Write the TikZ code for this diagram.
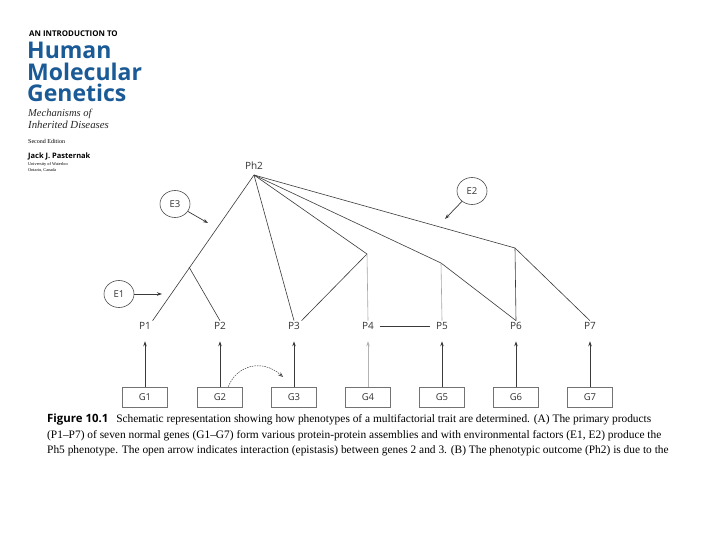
\documentclass[tikz,border=0pt]{standalone}
\usepackage{fontspec}
\setmainfont{Liberation Serif}
\newfontfamily\hsans{Open Sans}
\usetikzlibrary{arrows.meta,shapes.geometric}
\definecolor{hblue}{HTML}{1A5A96}
\definecolor{lc}{HTML}{3A3A3A}
\begin{document}
\begin{tikzpicture}[x=1pt,y=-1pt,
  lbl/.style={font=\hsans\fontsize{10}{12}\selectfont, text=black!80, inner sep=1.5pt},
  gbox/.style={draw=black!55, line width=0.7pt, minimum width=45pt, minimum height=20pt, inner sep=0pt, font=\hsans\fontsize{9.5}{11}\selectfont, text=black!80},
  env/.style={ellipse, draw=black!70, line width=0.6pt, minimum width=30pt, minimum height=27pt, inner sep=0pt, font=\hsans\fontsize{9.5}{11}\selectfont, text=black!80},
  link/.style={draw=lc, line width=0.6pt},
  faint/.style={draw=black!35, line width=0.6pt},
  arr/.style={-{Stealth[length=5pt,width=3.5pt]}, draw=lc, line width=0.7pt},
  hd/.style={anchor=base west, inner sep=0pt},
  htitle/.style={anchor=base west, inner sep=0pt, text=hblue, font=\hsans\bfseries\fontsize{23}{23}\selectfont},
  captext/.style={anchor=base west, inner sep=0pt, font=\fontsize{11.4}{13}\selectfont}
]
\useasboundingbox (0,0) rectangle (720,540);
\fill[white] (0,0) rectangle (720,540);

% header
\node[hd, font=\hsans\bfseries\fontsize{7.9}{8}\selectfont] (h0) at (29,37) {AN INTRODUCTION TO};
\node[htitle] (h1) at (27,59) {Human};
\node[htitle] (h2) at (27,80.5) {Molecular};
\node[htitle] (h3) at (27,102) {Genetics};
\node[hd, font=\itshape\fontsize{10.5}{11}\selectfont, text=black!85] (h4) at (28,117) {Mechanisms of};
\node[hd, font=\itshape\fontsize{10.8}{11}\selectfont, text=black!85] (h5) at (28,129) {Inherited Diseases};
\node[hd, font=\fontsize{6}{7}\selectfont] (h6) at (28,144) {Second Edition};
\node[hd, font=\hsans\bfseries\fontsize{7.5}{8}\selectfont] (h7) at (28,159) {Jack J. Pasternak};
\node[hd, font=\fontsize{4.3}{5}\selectfont] (h8) at (28,165.5) {University of Waterloo};
\node[hd, font=\fontsize{4.3}{5}\selectfont] (h9) at (28,171.5) {Ontario, Canada};

% P nodes
\node[lbl] (Ph2) at (254,166) {Ph2};
\coordinate (apex) at (254,175);
\foreach \i/\x in {1/145,2/220,3/294,4/368,5/442,6/516,7/590}{
  \node[lbl] (P\i) at (\x,326) {P\i};
  \node[gbox] (G\i) at (\x,397) {G\i};
}
\coordinate (j1) at (189,267);
\coordinate (j4) at (367,254);
\coordinate (j5) at (441,263);
\coordinate (j6) at (515,248);

\draw[link] (apex) -- (P1.north east);
\draw[link] (j1) -- (P2.north);
\draw[link] (apex) -- (P3.north);
\draw[link] (apex) -- (j4) -- (P3.north east);
\draw[faint] (j4) -- (P4.north);
\draw[link] (apex) -- (j5) -- (P6.north);
\draw[faint] (j5) -- (P5.north);
\draw[link] (apex) -- (j6) -- (P7.north);
\draw[link] (j6) -- (P6.north);
\draw[link, shorten <=4pt, shorten >=4pt] (P4) -- (P5);

% environment factors
\node[env] (E3) at (175,204) {E3};
\node[env] (E1) at (119,294) {E1};
\node[env] (E2) at (472,191) {E2};
\coordinate (e3t) at (208,223);
\coordinate (e1t) at (162,294);
\coordinate (e2t) at (445,219);
\draw[arr] (E3) -- (e3t);
\draw[arr] (E1) -- (e1t);
\draw[arr] (E2) -- (e2t);

% gene arrows
\foreach \i in {1,2,3,5,6,7}{
  \draw[arr, shorten >=10pt] (G\i.north) -- (P\i.south);
}
\draw[arr, draw=black!30, shorten >=10pt] (G4.north) -- (P4.south);

\coordinate (cE) at (283,377);
\draw[draw=lc, line width=0.5pt, dash pattern=on 1.5pt off 1pt, -{Stealth[open,length=5pt,width=4pt]}] (G2.51) .. controls (236,366) and (262,358) .. (cE);

% caption
\node[captext] (c1) at (47,422) {{\hsans\bfseries Figure 10.1}\hspace{8pt}Schematic representation showing how phenotypes of a multifactorial trait are determined. (A) The primary products};
\node[captext] (c2) at (47,438) {(P1--P7) of seven normal genes (G1--G7) form various protein-protein assemblies and with environmental factors (E1, E2) produce the};
\node[captext] (c3) at (47,453.5) {Ph5 phenotype. The open arrow indicates interaction (epistasis) between genes 2 and 3. (B) The phenotypic outcome (Ph2) is due to the};
\end{tikzpicture}
\end{document}
